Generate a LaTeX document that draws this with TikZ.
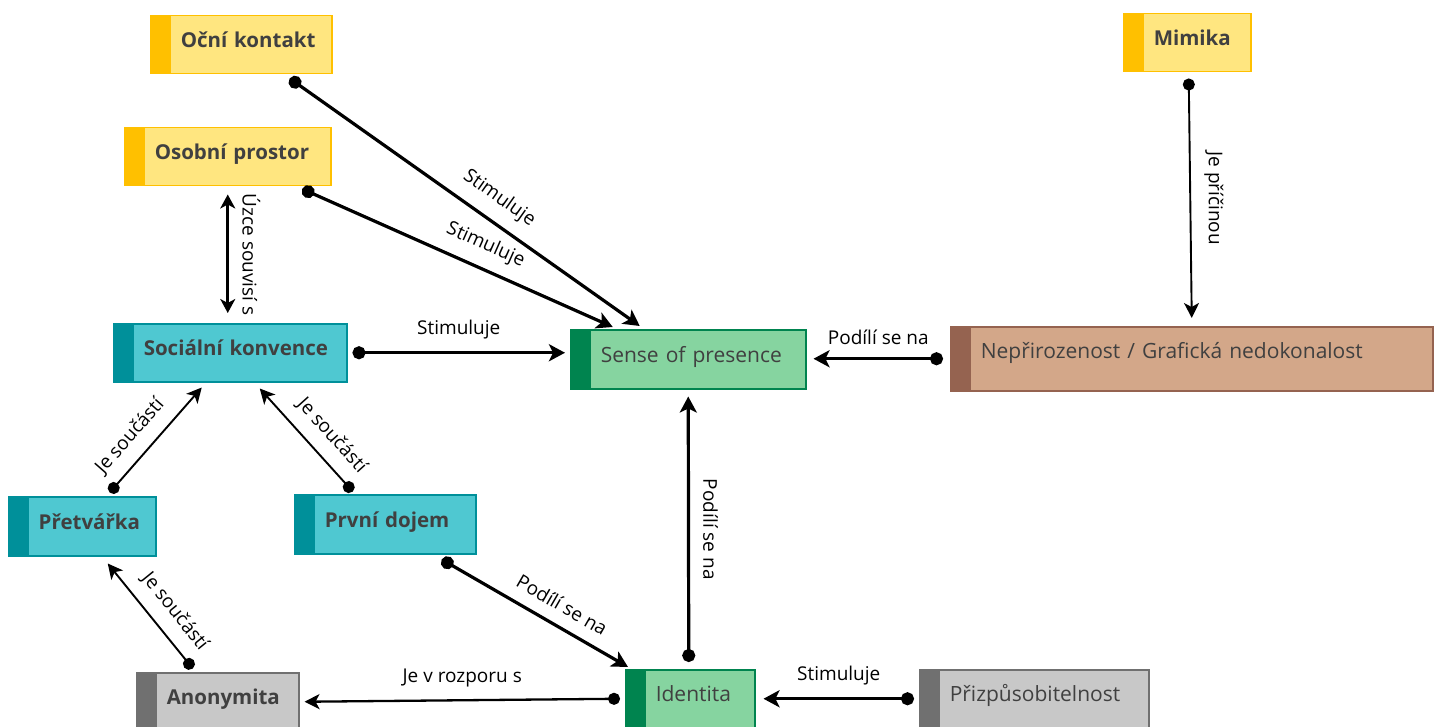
\documentclass[tikz,border=0pt]{standalone}
\usepackage{fontspec}
\setmainfont{Open Sans}
\usetikzlibrary{arrows.meta}

\definecolor{zlutaT}{HTML}{FFC000}
\definecolor{zlutaS}{HTML}{FFE680}
\definecolor{tyrkysT}{HTML}{00909A}
\definecolor{tyrkysS}{HTML}{4FC8D1}
\definecolor{zelenaT}{HTML}{00844F}
\definecolor{zelenaS}{HTML}{86D4A0}
\definecolor{hnedaT}{HTML}{956350}
\definecolor{hnedaS}{HTML}{D3A789}
\definecolor{sedaT}{HTML}{707070}
\definecolor{sedaS}{HTML}{C8C8C8}
\definecolor{pismo}{HTML}{404040}

\tikzset{
  pojem/.style n args={3}{draw=#1, fill=#2, line width=1.5pt, anchor=north west,
    inner xsep=0pt, inner ysep=0pt, text width=#3, minimum height=58pt,
    text height=14pt, text depth=8pt, align=left, text=pismo,
    font=\fontsize{20.5}{24}\selectfont\bfseries,
    execute at begin node={\noindent\hspace*{30pt}\hbox\bgroup},
    execute at end node={\egroup},
    path picture={\fill[#1] (path picture bounding box.north west) rectangle ([xshift=20pt]path picture bounding box.south west);}},
  tenkypismo/.style={font=\fontsize{21}{24}\selectfont},
  spoj/.style={line width=3.2pt, {Circle[length=13pt]}-{Stealth[length=16pt,width=17pt,inset=4pt]}},
  tenky/.style={line width=1.9pt, {Circle[length=12pt]}-{Stealth[length=15pt,width=15pt,inset=4pt]}},
  popis/.style={font=\fontsize{19}{22}\selectfont, inner sep=1pt},
  svisly/.style={popis, rotate=-90, anchor=south, inner ysep=13pt},
}

\begin{document}
\begin{tikzpicture}[x=1pt,y=-1pt]
  \useasboundingbox (0,0) rectangle (1437,727);
  \clip (0,0) rectangle (1437,727);

  \node[pojem={zlutaT}{zlutaS}{181pt}] (ocni) at (150,15) {Oční kontakt};
  \node[pojem={zlutaT}{zlutaS}{206pt}] (osobni) at (124,127) {Osobní prostor};
  \node[pojem={zlutaT}{zlutaS}{127pt}] (mimika) at (1123,13) {Mimika};
  \node[pojem={tyrkysT}{tyrkysS}{233pt}] (socialni) at (113,323) {Sociální konvence};
  \node[pojem={zelenaT}{zelenaS}{235pt}, tenkypismo, minimum height=59pt] (sense) at (570,329) {Sense of presence};
  \node[pojem={hnedaT}{hnedaS}{482pt}, tenkypismo, minimum height=64pt, text depth=14pt] (neprir) at (950,326) {Nepřirozenost / Grafická nedokonalost};
  \node[pojem={tyrkysT}{tyrkysS}{147pt}, minimum height=59pt] (pretvarka) at (8,496) {Přetvářka};
  \node[pojem={tyrkysT}{tyrkysS}{181pt}, minimum height=59pt] (prvni) at (294,494) {První dojem};
  \node[pojem={sedaT}{sedaS}{162pt}] (anonymita) at (136,672) {Anonymita};
  \node[pojem={zelenaT}{zelenaS}{129pt}, tenkypismo] (identita) at (625,669) {Identita};
  \node[pojem={sedaT}{sedaS}{229pt}, tenkypismo] (prizpus) at (919,669) {Přizpůsobitelnost};

  \draw[spoj] ([xshift=48.5pt,yshift=-4pt]ocni.south) -- ([xshift=-48.5pt,yshift=3pt]sense.north)
    node[popis, pos=0.56, sloped, above=11pt] {Stimuluje};
  \draw[spoj] ([xshift=74.5pt,yshift=-2.5pt]osobni.south) -- ([xshift=-75.5pt,yshift=2pt]sense.north)
    node[popis, pos=0.56, sloped, above=11pt] {Stimuluje};
  \draw[line width=3.2pt, {Stealth[length=14pt,width=15pt,inset=4pt]}-{Stealth[length=14pt,width=15pt,inset=4pt]},
    shorten <=8pt, shorten >=10pt] (osobni.south) -- (osobni.south |- socialni.north)
    node[svisly, midway] {Úzce souvisí s};
  \draw[spoj] ([xshift=5pt]socialni.east) -- ([xshift=-5pt]socialni.east -| sense.west)
    node[popis, midway, above=11pt] {Stimuluje};
  \draw[spoj] ([xshift=-7pt]neprir.west) -- ([xshift=7pt]neprir.west -| sense.east)
    node[popis, midway, above=11pt] {Podílí se na};
  \draw[tenky] ([xshift=1.5pt,yshift=-6pt]mimika.south) -- ([yshift=8pt]neprir.north)
    node[svisly, midway] {Je příčinou};
  \draw[tenky] ([xshift=27.5pt,yshift=3.5pt]pretvarka.north) -- ([xshift=-28.5pt,yshift=-5pt]socialni.south)
    node[popis, pos=0.4, sloped, above=11pt] {Je součástí};
  \draw[tenky] ([xshift=-32.5pt,yshift=2.5pt]prvni.north) -- ([xshift=29.5pt,yshift=-6pt]socialni.south)
    node[popis, pos=0.4, sloped, above=11pt] {Je součástí};
  \draw[tenky] ([xshift=-25pt,yshift=3.5pt]anonymita.north) -- ([xshift=25.5pt,yshift=-7pt]pretvarka.south)
    node[popis, pos=0.41, sloped, above=11pt] {Je součástí};
  \draw[spoj] ([xshift=56.5pt,yshift=-5pt]prvni.south) -- ([xshift=3pt,yshift=2pt]identita.north west)
    node[popis, pos=0.59, sloped, above=11pt] {Podílí se na};
  \draw[spoj] ([xshift=-1.5pt,yshift=7pt]identita.north) -- ([yshift=-7pt]sense.south)
    node[svisly, midway] {Podílí se na};
  \draw[tenky, line width=2.3pt] ([xshift=-5pt]identita.west) -- ([xshift=5pt]anonymita.east)
    node[popis, midway, above=11pt] {Je v rozporu s};
  \draw[spoj] ([xshift=-5pt]prizpus.west) -- ([xshift=8pt]identita.east)
    node[popis, midway, above=11pt] {Stimuluje};
\end{tikzpicture}
\end{document}
